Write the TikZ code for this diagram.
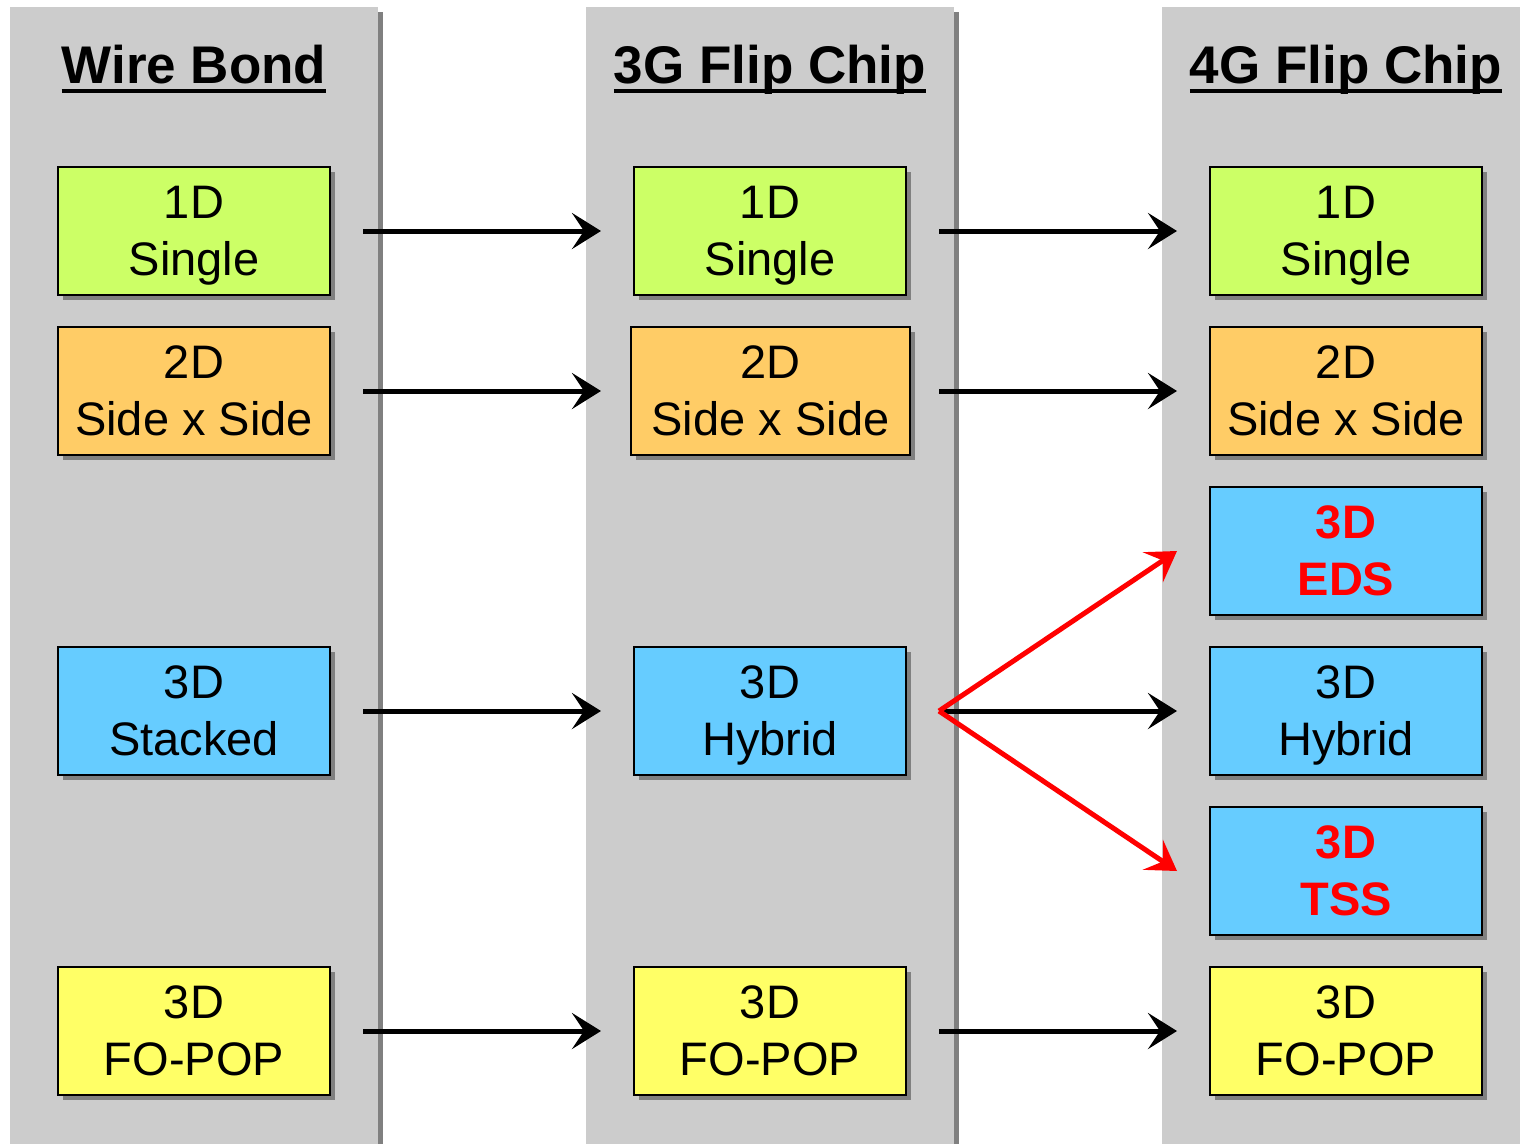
\documentclass[tikz,border=0pt]{standalone}
\usepackage{fontspec}
\setmainfont{Liberation Sans}
\usetikzlibrary{arrows.meta,shadows,calc}
\definecolor{colgray}{HTML}{CCCCCC}
\definecolor{shadegray}{HTML}{808080}
\definecolor{limefill}{HTML}{CCFF66}
\definecolor{orangefill}{HTML}{FFCC66}
\definecolor{bluefill}{HTML}{66CCFF}
\definecolor{yellowfill}{HTML}{FFFF66}
\definecolor{alertred}{HTML}{FF0000}
\begin{document}
\begin{tikzpicture}[x=1pt,y=-1pt,
  pkgbox/.style={draw=black, line width=2pt, minimum width=272pt, minimum height=128pt,
    inner sep=0pt, align=center, text depth=0pt, font={\fontsize{47}{57}\selectfont},
    general shadow={fill=shadegray, shadow xshift=5pt, shadow yshift=-5pt}},
  newbox/.style={pkgbox, font={\fontsize{47}{57}\selectfont\bfseries}, text=alertred},
  coltitle/.style={anchor=base, inner sep=0pt, font={\fontsize{53}{60}\selectfont\bfseries}},
  flow/.style={line width=5pt, -{Stealth[length=29pt,width=36pt,inset=12pt]}},
  redflow/.style={flow, draw=alertred, color=alertred}]
\clip (0,0) rectangle (1520,1143);
\fill[white] (0,0) rectangle (1520,1143);

% three grey columns with their right-hand shadow
\foreach \cx in {10,586,1162}{
  \fill[shadegray] (\cx+5,12) rectangle (\cx+373,1160);
  \fill[colgray] (\cx,7) rectangle (\cx+368,1160);
}

% column headings, underlined
\node[coltitle] (t1) at (194,83) {Wire Bond};
\node[coltitle] (t2) at (770,83) {3G Flip Chip};
\node[coltitle] (t3) at (1346,83) {4G Flip Chip};
\foreach \t in {t1,t2,t3}
  \draw[line width=3.5pt] ($(\t.base west)+(0,8)$) -- ($(\t.base east)+(0,8)$);

% Wire Bond
\node[pkgbox, fill=limefill]   (a1) at (194,231)  {1D\\Single};
\node[pkgbox, fill=orangefill] (a2) at (194,391)  {2D\\Side x Side};
\node[pkgbox, fill=bluefill]   (a4) at (194,711)  {3D\\Stacked};
\node[pkgbox, fill=yellowfill] (a6) at (194,1031) {3D\\FO-POP};

% 3G Flip Chip
\node[pkgbox, fill=limefill]   (b1) at (770,231)  {1D\\Single};
\node[pkgbox, fill=orangefill, minimum width=279pt] (b2) at (770.5,391) {2D\\Side x Side};
\node[pkgbox, fill=bluefill]   (b4) at (770,711)  {3D\\Hybrid};
\node[pkgbox, fill=yellowfill] (b6) at (770,1031) {3D\\FO-POP};

% 4G Flip Chip
\node[pkgbox, fill=limefill]   (c1) at (1346,231)  {1D\\Single};
\node[pkgbox, fill=orangefill] (c2) at (1346,391)  {2D\\Side x Side};
\node[newbox, fill=bluefill]   (c3) at (1346,551)  {3D\\EDS};
\node[pkgbox, fill=bluefill]   (c4) at (1346,711)  {3D\\Hybrid};
\node[newbox, fill=bluefill]   (c5) at (1346,871)  {3D\\TSS};
\node[pkgbox, fill=yellowfill] (c6) at (1346,1031) {3D\\FO-POP};

% migration arrows, kept on common start and end lines per column gap
\foreach \s/\d/\sr/\dr in {a1/b1/a1/b1, a2/b2/a1/b1, a4/b4/a1/b1, a6/b6/a1/b1,
                          b1/c1/b1/c1, b2/c2/b1/c1, b4/c4/b1/c1, b6/c6/b1/c1}
  \draw[flow] ($(\s.east -| \sr.east)+(32,0)$) -- ($(\d.west -| \dr.west)+(-32,0)$);
\draw[redflow] ($(b4.east)+(32,0)$) -- ($(c3.west)+(-32,0)$);
\draw[redflow] ($(b4.east)+(32,0)$) -- ($(c5.west)+(-32,0)$);
\end{tikzpicture}
\end{document}
